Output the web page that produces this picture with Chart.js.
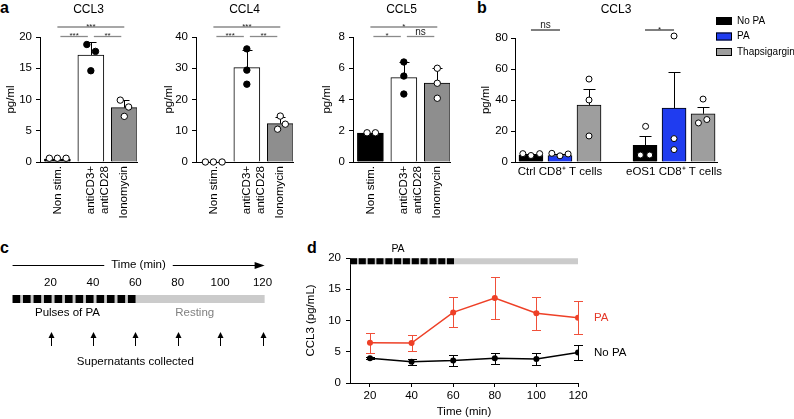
<!DOCTYPE html>
<html>
<head>
<meta charset="utf-8">
<script src="https://cdn.jsdelivr.net/npm/chart.js@4.4.1/dist/chart.umd.min.js"></script>
<style>
  body { margin: 0; width: 794px; height: 419px; background: #fff; position: relative; overflow: hidden; }
  canvas { position: absolute; }
  .panel { position: absolute; font: bold 16px 'Liberation Sans', Arial, sans-serif; line-height: 16px; }
</style>
</head>
<body>
<div class="panel" style="left:0;top:0">a</div>
<div class="panel" style="left:477px;top:0">b</div>
<div class="panel" style="left:0;top:240px">c</div>
<div class="panel" style="left:307px;top:240px">d</div>
<script>
// ---- panel a: CCL3 / CCL4 / CCL5 after stimulation
const stimLabels = ['Non stim.', ['antiCD3+', 'antiCD28'], 'Ionomycin'];

const ccl3Means = [0.45, 17.1, 8.7];
const ccl3Sd = [0.05, 2.1, 1.3];
const ccl3Reps = [[0.6, 0.6, 0.6], [18.8, 17.7, 14.6], [9.9, 8.8, 7.3]];
const ccl3Sig = [[0, 1, '***'], [1, 2, '**'], [0, 2, '***']];

const ccl4Means = [0, 30.2, 12.3];
const ccl4Sd = [0, 5.6, 2.2];
const ccl4Reps = [[0, 0, 0], [36.2, 29.4, 24.9], [14.7, 10.5, 12.1]];
const ccl4Sig = [[0, 1, '***'], [1, 2, '**'], [0, 2, '***']];

const ccl5Means = [1.85, 5.4, 5.05];
const ccl5Sd = [0.03, 1.0, 0.95];
const ccl5Reps = [[1.87, 1.87], [6.4, 5.5, 4.35], [6.0, 5.04, 4.08]];
const ccl5Sig = [[0, 1, '*'], [1, 2, 'ns'], [0, 2, '*']];

// ---- panel b: CCL3 from Ctrl / eOS1 CD8+ T cells
const groupLabels = ['Ctrl CD8\u207A T cells', 'eOS1 CD8\u207A T cells'];
const seriesNames = ['No PA', 'PA', 'Thapsigargin'];
const noPaMeans = [4.3, 10.7];
const noPaSd = [1.0, 6.3];
const noPaReps = [[5.4, 4.2, 5.4], [23, 4.5, 4.5]];
const paMeans = [4.2, 34.8];
const paSd = [1.1, 23];
const paReps = [[5.6, 4.0, 5.2], [81.3, 15.1, 8.0]];
const thapsMeans = [36.8, 31.1];
const thapsSd = [10.2, 4.5];
const thapsReps = [[53.5, 40, 16.8], [40.6, 25.2, 27.4]];
const bSig = [[0, 0, 1, 'ns'], [1, 0, 1, '*']]; // group, series a, series b, label

// ---- panel c: protocol schematic (minutes)
const timeTicks = [20, 40, 60, 80, 100, 120];
const pulseStarts = [2.1, 7.0, 12.0, 16.9, 21.9, 26.8, 31.8, 36.7, 41.7, 46.6, 51.6, 56.5];
const pulseLen = 3.6;
const protocolEnd = 121;
const sampleTimes = [20, 40, 60, 80, 100, 120];

// ---- panel d: CCL3 over time
const dTimes = [20, 40, 60, 80, 100, 120];
const paCcl3 = [6.45, 6.4, 11.3, 13.6, 11.15, 10.45];
const paCcl3Sd = [1.6, 1.35, 2.4, 3.3, 2.65, 2.6];
const noPaCcl3 = [3.95, 3.42, 3.6, 3.95, 3.84, 4.9];
const noPaCcl3Sd = [0.15, 0.5, 0.9, 0.9, 0.9, 1.25];
const dPulseStarts = [10.4, 14.6, 18.9, 23.1, 27.4, 31.6, 35.8, 40.1, 44.3, 48.6, 52.8, 57.0];
const dPulseLen = 3.4;
const dRange = [10.4, 120];

const FONT = "'Liberation Sans', Arial, Helvetica, sans-serif";
Chart.defaults.font.family = FONT;
Chart.defaults.font.size = 11.5;
Chart.defaults.color = '#000';
Chart.defaults.animation = false;
Chart.defaults.events = [];
Chart.defaults.plugins.legend.display = false;
Chart.defaults.plugins.tooltip.enabled = false;

// dot scatter inside bars (style only)
const ccl3Jitter = [[-0.24, 0, 0.26], [-0.12, 0.14, 0], [-0.12, 0.13, 0]];
const ccl4Jitter = [[-0.24, 0, 0.26], [0, 0, 0], [0, -0.08, 0.15]];
const ccl5Jitter = [[-0.1, 0.15], [0, 0, 0], [0, 0, 0]];
const bJitter = [
  [[-0.28, 0, 0.3], [0.02, -0.16, 0.16]],
  [[-0.28, 0, 0.28], [0, 0, 0]],
  [[0, 0, 0], [0, -0.16, 0.13]]
];

function mount(box) {
  const c = document.createElement('canvas');
  c.width = box[2];
  c.height = box[3];
  c.style.left = box[0] + 'px';
  c.style.top = box[1] + 'px';
  document.body.appendChild(c);
  return c.getContext('2d');
}

// padding + axis sizes so the plot area lands where the figure has it
function frame(box, area) {
  return {
    padding: { left: 0, top: area[1] - box[1], right: box[0] + box[2] - area[2], bottom: 0 },
    yWidth: area[0] - box[0],
    xHeight: box[1] + box[3] - area[3]
  };
}

function text(ctx, str, x, y, size, color, align, base) {
  ctx.save();
  ctx.font = size + 'px ' + FONT;
  ctx.fillStyle = color || '#000';
  ctx.textAlign = align || 'center';
  ctx.textBaseline = base || 'middle';
  ctx.fillText(str, x, y);
  ctx.restore();
}

function hline(ctx, x1, x2, y, color, w) {
  ctx.save();
  ctx.strokeStyle = color;
  ctx.lineWidth = w;
  ctx.beginPath();
  ctx.moveTo(x1, y);
  ctx.lineTo(x2, y);
  ctx.stroke();
  ctx.restore();
}

function sigLabel(ctx, label, x, y) {
  if (label.indexOf('*') >= 0) text(ctx, label, x, y + 1.5, 8, '#222', 'center', 'alphabetic');
  else text(ctx, label, x, y - 2, 10, '#222', 'center', 'alphabetic');
}

let markId = 0;
// error bars for datasets carrying sd, plus per-panel annotations
function marks(draw) {
  return {
    id: 'marks' + (++markId),
    beforeDatasetDraw(chart, args) {
      const ds = chart.data.datasets[args.index];
      if (!ds.sd) return;
      const ys = chart.scales.y, c = chart.ctx;
      c.save();
      c.strokeStyle = ds.errColor || '#000';
      c.lineWidth = 1;
      args.meta.data.forEach((el, i) => {
        const v = ds.data[i].y, s = ds.sd[i];
        if (!s) return;
        const top = Math.round(ys.getPixelForValue(v + s)) + 0.5;
        const bot = ds.bothWays ? Math.round(ys.getPixelForValue(v - s)) + 0.5 : el.y;
        const x = Math.round(el.x) + 0.5, w = ds.capWidth / 2;
        c.beginPath();
        c.moveTo(x, bot); c.lineTo(x, top);
        c.moveTo(x - w, top); c.lineTo(x + w, top);
        if (ds.bothWays) { c.moveTo(x - w, bot); c.lineTo(x + w, bot); }
        c.stroke();
      });
      c.restore();
    },
    afterDraw(chart) { if (draw) draw(chart); }
  };
}

function yAxis(f, max, step, title, pad) {
  return {
    min: 0, max: max,
    ticks: { stepSize: step, padding: pad },
    grid: { drawOnChartArea: false, tickLength: 4, color: '#000' },
    border: { color: '#000' },
    title: { display: true, text: title, padding: { top: 4, bottom: 4 } },
    afterFit: s => { s.width = f.yWidth; }
  };
}

function stimPanel(box, area, title, yMax, yStep, means, sd, reps, sig, jitter) {
  const f = frame(box, area);
  const barColors = ['#000', '#fff', '#8e8e8e'];
  const dotFill = ['#fff', '#000', '#fff'];
  const dots = [];
  reps.forEach((g, i) => g.forEach((v, j) => dots.push({ x: i + jitter[i][j], y: v, fill: dotFill[i] })));
  new Chart(mount(box), {
    type: 'bar',
    data: {
      datasets: [
        { type: 'bar', data: means.map((m, i) => ({ x: i, y: m })), backgroundColor: barColors,
          borderColor: '#000', borderWidth: 1, barThickness: 26, grouped: false,
          sd: sd, capWidth: 10, order: 2 },
        { type: 'scatter', data: dots, pointRadius: 3.2, pointBackgroundColor: dots.map(d => d.fill),
          pointBorderColor: '#000', pointBorderWidth: 1, clip: false, order: 1 }
      ]
    },
    options: {
      responsive: false,
      layout: { padding: f.padding },
      scales: {
        x: {
          type: 'linear', min: -0.52, max: 2.38, offset: false,
          grid: { display: false, drawTicks: false },
          border: { color: '#000' },
          afterBuildTicks: s => { s.ticks = stimLabels.map((l, i) => ({ value: i })); },
          afterFit: s => { s.height = f.xHeight; },
          ticks: { minRotation: 90, maxRotation: 90, autoSkip: false, padding: 4,
                   callback: v => stimLabels[v] }
        },
        y: yAxis(f, yMax, yStep, 'pg/ml', 4)
      }
    },
    plugins: [marks(chart => {
      const { ctx, chartArea: a, scales: { x } } = chart;
      text(ctx, title, (a.left + a.right) / 2, 10, 12);
      sig.forEach(([i, j, lab]) => {
        const level = j - i > 1 ? 1 : 0;
        const y = a.top - 0.5 - level * 9.5;
        const inset = level ? 0 : 3;
        const x1 = x.getPixelForValue(i) + inset, x2 = x.getPixelForValue(j) - inset;
        hline(ctx, x1, x2, y, '#8a8a8a', 1.3);
        sigLabel(ctx, lab, (x1 + x2) / 2, y);
      });
    })]
  });
}

stimPanel([0, 0, 160, 225], [40, 37, 137, 162], 'CCL3', 20, 5, ccl3Means, ccl3Sd, ccl3Reps, ccl3Sig, ccl3Jitter);
stimPanel([158, 0, 155, 225], [196, 37, 293, 162], 'CCL4', 40, 10, ccl4Means, ccl4Sd, ccl4Reps, ccl4Sig, ccl4Jitter);
stimPanel([316, 0, 155, 225], [353, 37, 450, 162], 'CCL5', 8, 2, ccl5Means, ccl5Sd, ccl5Reps, ccl5Sig, ccl5Jitter);

// ---- panel b
(function () {
  const box = [475, 0, 319, 200], area = [515, 38, 717, 162];
  const f = frame(box, area);
  const groupPos = [1, 4.93];
  const colors = ['#000', '#1f3cf0', '#9e9e9e'];
  const means = [noPaMeans, paMeans, thapsMeans];
  const sds = [noPaSd, paSd, thapsSd];
  const reps = [noPaReps, paReps, thapsReps];
  const datasets = seriesNames.map((name, s) => ({
    type: 'bar', label: name,
    data: means[s].map((m, g) => ({ x: groupPos[g] + s - 1, y: m })),
    backgroundColor: colors[s], borderColor: '#000', borderWidth: 1,
    barThickness: 24, grouped: false, sd: sds[s], capWidth: 12, order: 2
  }));
  const dots = [];
  reps.forEach((bySeries, s) => bySeries.forEach((vals, g) => vals.forEach((v, j) => {
    dots.push({ x: groupPos[g] + s - 1 + bJitter[s][g][j], y: v });
  })));
  datasets.push({ type: 'scatter', data: dots, pointRadius: 3, pointBackgroundColor: '#fff',
                  pointBorderColor: '#000', pointBorderWidth: 1, clip: false, order: 1 });
  new Chart(mount(box), {
    type: 'bar',
    data: { datasets },
    options: {
      responsive: false,
      layout: { padding: f.padding },
      scales: {
        x: {
          type: 'linear', min: -0.55, max: 6.41, offset: false,
          grid: { display: false, drawTicks: false },
          border: { color: '#000' },
          afterBuildTicks: s => { s.ticks = groupPos.map(v => ({ value: v })); },
          afterFit: s => { s.height = f.xHeight; },
          ticks: { maxRotation: 0, autoSkip: false, padding: 3,
                   callback: (v, i) => groupLabels[i] }
        },
        y: yAxis(f, 80, 20, 'pg/ml', 3)
      }
    },
    plugins: [marks(chart => {
      const { ctx, chartArea: a, scales: { x } } = chart;
      text(ctx, 'CCL3', (a.left + a.right) / 2, 10, 12);
      bSig.forEach(([g, s1, s2, lab]) => {
        const y = a.top - 8;
        const x1 = x.getPixelForValue(groupPos[g] + s1 - 1), x2 = x.getPixelForValue(groupPos[g] + s2 - 1);
        hline(ctx, x1, x2, y, '#000', 1);
        sigLabel(ctx, lab, (x1 + x2) / 2, y);
      });
      // legend
      chart.data.datasets.filter(d => d.type === 'bar').forEach((d, i) => {
        const lx = a.right - 1, ly = 17 + i * 15.5;
        ctx.save();
        ctx.fillStyle = d.backgroundColor;
        ctx.fillRect(lx, ly, 16, 8);
        ctx.strokeStyle = '#000';
        ctx.lineWidth = 1;
        ctx.strokeRect(lx + 0.5, ly + 0.5, 15, 7);
        ctx.restore();
        text(ctx, d.label, lx + 21, ly + 4, 10, '#000', 'left');
      });
    })]
  });
})();

// ---- panel c: schematic on a time axis
function pulseSegments(starts, len, y) {
  const pts = [];
  starts.forEach(s => { pts.push({ x: s, y: y }, { x: s + len, y: y }, { x: s + len + 0.01, y: null }); });
  return pts;
}

(function () {
  const rows = { bar: 0, phase: 1.4, arrowTip: 3.3, arrowBase: 4.7, caption: 6.3 };
  new Chart(mount([0, 248, 300, 130]), {
    type: 'line',
    data: {
      datasets: [
        { data: pulseSegments(pulseStarts, pulseLen, rows.bar), borderColor: '#000', borderWidth: 8,
          pointRadius: 0, borderCapStyle: 'butt', order: 1 },
        { data: [{ x: pulseStarts[0], y: rows.bar }, { x: protocolEnd, y: rows.bar }], borderColor: '#cbcbcb',
          borderWidth: 8, pointRadius: 0, borderCapStyle: 'butt', order: 2 }
      ]
    },
    options: {
      responsive: false,
      layout: { padding: { left: 6, right: 29, top: 6, bottom: 14 } },
      scales: {
        x: {
          type: 'linear', position: 'top', min: -1, max: 124,
          grid: { display: false, drawTicks: false },
          border: { display: false },
          afterBuildTicks: s => { s.ticks = timeTicks.map(v => ({ value: v })); },
          afterFit: s => { s.height = 40; },
          ticks: { padding: 4, autoSkip: false, maxRotation: 0 },
          title: { display: true, text: 'Time (min)', padding: { top: 4, bottom: 0 } }
        },
        y: { display: false, reverse: true, min: -0.5, max: 6.5 }
      }
    },
    plugins: [marks(chart => {
      const { ctx, chartArea: a, scales: { x, y } } = chart;
      // time arrow either side of the axis title
      ctx.save();
      ctx.font = '11.5px ' + FONT;
      const tw = ctx.measureText('Time (min)').width;
      ctx.restore();
      const ty = Math.round(x.top + 4 + 6.9) + 0.5;
      const cx = (a.left + a.right) / 2;
      const xs = x.getPixelForValue(pulseStarts[0]), xe = x.getPixelForValue(protocolEnd);
      hline(ctx, xs, cx - tw / 2 - 7, ty, '#000', 1);
      hline(ctx, cx + tw / 2 + 7, xe - 6, ty, '#000', 1);
      ctx.save();
      ctx.fillStyle = '#000';
      ctx.beginPath();
      ctx.moveTo(xe, ty); ctx.lineTo(xe - 10, ty - 3.5); ctx.lineTo(xe - 10, ty + 3.5);
      ctx.closePath(); ctx.fill();
      ctx.restore();

      text(ctx, 'Pulses of PA', x.getPixelForValue(28), y.getPixelForValue(rows.phase), 11.5, '#000');
      text(ctx, 'Resting', x.getPixelForValue(88), y.getPixelForValue(rows.phase), 11.5, '#808080');

      const tipY = y.getPixelForValue(rows.arrowTip), baseY = y.getPixelForValue(rows.arrowBase);
      sampleTimes.forEach(t => {
        const ax = Math.round(x.getPixelForValue(t)) + 0.5;
        ctx.save();
        ctx.strokeStyle = '#000';
        ctx.fillStyle = '#000';
        ctx.lineWidth = 1;
        ctx.beginPath(); ctx.moveTo(ax, baseY); ctx.lineTo(ax, tipY + 4); ctx.stroke();
        ctx.beginPath(); ctx.moveTo(ax, tipY); ctx.lineTo(ax - 3, tipY + 6); ctx.lineTo(ax + 3, tipY + 6);
        ctx.closePath(); ctx.fill();
        ctx.restore();
      });
      text(ctx, 'Supernatants collected', x.getPixelForValue(60), y.getPixelForValue(rows.caption), 11.5, '#000');
    })]
  });
})();

// ---- panel d
(function () {
  const box = [300, 240, 494, 179], area = [350, 258, 578, 383];
  const f = frame(box, area);
  const yMax = 20, bandY = yMax - 0.5;
  const red = '#ee4027';
  new Chart(mount(box), {
    type: 'line',
    data: {
      datasets: [
        { data: pulseSegments(dPulseStarts, dPulseLen, bandY), borderColor: '#000', borderWidth: 6,
          pointRadius: 0, borderCapStyle: 'butt', order: 3 },
        { data: [{ x: dRange[0], y: bandY }, { x: dRange[1], y: bandY }], borderColor: '#cbcbcb',
          borderWidth: 6, pointRadius: 0, borderCapStyle: 'butt', order: 4 },
        { label: 'No PA', data: dTimes.map((t, i) => ({ x: t, y: noPaCcl3[i] })), borderColor: '#000',
          borderWidth: 1.5, pointRadius: 3, pointBackgroundColor: '#000', pointBorderWidth: 0,
          sd: noPaCcl3Sd, bothWays: true, capWidth: 9, errColor: '#000', order: 2 },
        { label: 'PA', data: dTimes.map((t, i) => ({ x: t, y: paCcl3[i] })), borderColor: red,
          borderWidth: 1.5, pointRadius: 3, pointBackgroundColor: red, pointBorderWidth: 0,
          sd: paCcl3Sd, bothWays: true, capWidth: 9, errColor: '#f0503a', order: 1 }
      ]
    },
    options: {
      responsive: false,
      layout: { padding: f.padding },
      scales: {
        x: {
          type: 'linear', min: dRange[0], max: dRange[1],
          grid: { drawOnChartArea: false, tickLength: 4, color: '#000' },
          border: { color: '#000' },
          afterBuildTicks: s => { s.ticks = dTimes.map(v => ({ value: v })); },
          afterFit: s => { s.height = f.xHeight; },
          ticks: { padding: 2, autoSkip: false, maxRotation: 0 },
          title: { display: true, text: 'Time (min)', padding: { top: 0, bottom: 0 } }
        },
        y: yAxis(f, yMax, 5, 'CCL3 (pg/mL)', 5)
      }
    },
    plugins: [marks(chart => {
      const { ctx, chartArea: a, scales: { x, y } } = chart;
      const mid = (dPulseStarts[0] + dPulseStarts[dPulseStarts.length - 1] + dPulseLen) / 2;
      text(ctx, 'PA', x.getPixelForValue(mid) - 4, a.top - 9, 10.5);
      text(ctx, 'PA', a.right + 16, y.getPixelForValue(paCcl3[paCcl3.length - 1]), 11.5, '#e5392a', 'left');
      text(ctx, 'No PA', a.right + 16, y.getPixelForValue(noPaCcl3[noPaCcl3.length - 1]), 11.5, '#000', 'left');
    })]
  });
})();
</script>
</body>
</html>
